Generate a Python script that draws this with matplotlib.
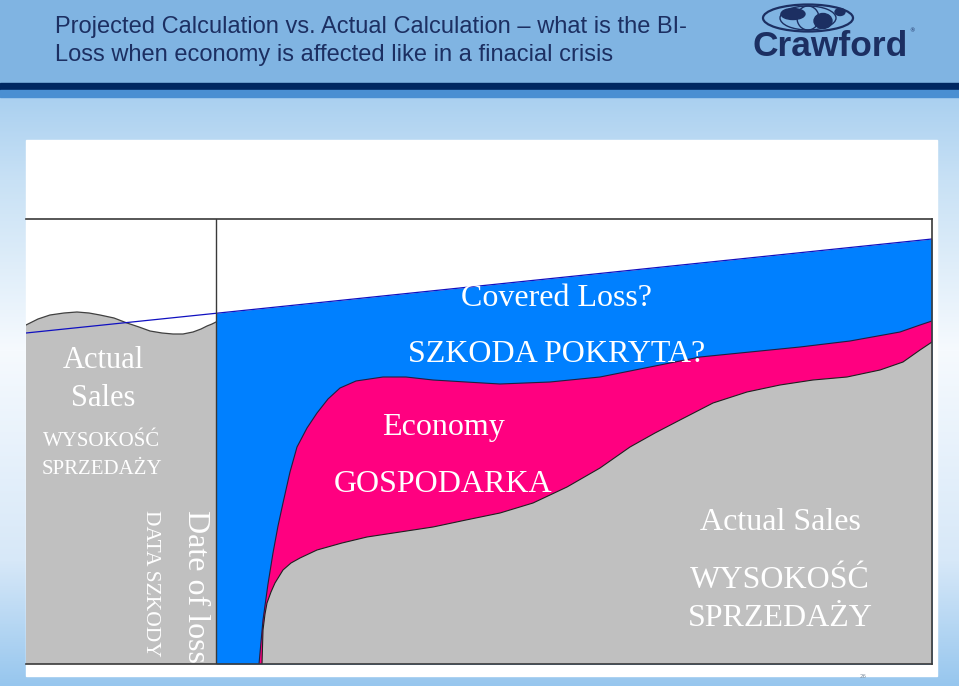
import numpy as np
import matplotlib.pyplot as plt
from matplotlib.patches import Rectangle, Ellipse

# chart units: x = time since start of chart, y = sales level (baseline 0)
loss_x = 190

# actual sales before the date of loss
pre_x = [0, 12, 24, 38, 51, 63, 74, 88, 101, 113, 124, 136, 147, 157, 167, 175, 181, 186, 190]
pre_y = [339, 345, 349, 351, 352, 351, 349, 346, 341, 337, 333, 331, 330, 330, 332, 335, 338, 340, 342]

# projected sales trend (straight line)
proj_x = [0, 906]
proj_y = [331, 425]

# projection corrected for the economy (financial crisis)
econ_x = [233, 237, 242, 247, 252, 257, 264, 271, 281, 291, 302, 314, 330, 357,
          380, 407, 440, 474, 524, 574, 624, 674, 724, 774, 824, 874, 894, 906]
econ_y = [0, 44, 80, 111, 138, 161, 192, 217, 236, 251, 265, 276, 283, 287,
          287, 284, 282, 280, 282, 287, 297, 307, 312, 317, 323, 332, 339, 343]

# actual sales after the loss
act_x = [236, 237, 239, 241, 245, 249, 257, 265, 274, 291, 316, 341, 374, 407, 440,
         474, 507, 541, 574, 604, 629, 654, 687, 721, 754, 787, 821, 854, 877, 894, 906]
act_y = [0, 34, 50, 61, 72, 81, 94, 101, 106, 114, 121, 127, 132, 137, 144,
         151, 161, 177, 196, 217, 231, 244, 261, 272, 279, 284, 287, 294, 302, 314, 322]

title1 = "Projected Calculation vs. Actual Calculation \u2013 what is the BI-"
title2 = "Loss when economy is affected like in a finacial crisis"

BLUE = "#0080ff"
PINK = "#ff0080"
GREY = "#c0c0c0"
NAVY = "#1c2f62"
SERIF = "Liberation Serif"

fig = plt.figure(figsize=(9.59, 6.86), dpi=100)

# ---- slide background ----
bg = fig.add_axes([0, 0, 1, 1])
bg.set_xlim(0, 959)
bg.set_ylim(686, 0)
bg.axis("off")

rows = np.arange(686)
stops = [97, 180, 350, 560, 686]
cols = np.array([[170, 208, 240], [200, 225, 245], [246, 250, 254],
                 [215, 232, 248], [150, 198, 238]]) / 255
grad = np.stack([np.interp(rows, stops, cols[:, k]) for k in range(3)], axis=-1)
bg.imshow(grad[:, None, :], extent=(0, 959, 686, 0), aspect="auto", zorder=0)

bg.add_patch(Rectangle((0, 0), 959, 83, color="#80b4e2", zorder=1))
bg.add_patch(Rectangle((0, 83), 959, 7, color="#002862", zorder=1))
bg.add_patch(Rectangle((0, 90), 959, 7, color="#4a8fd2", zorder=1))
bg.add_patch(Rectangle((26, 140), 911, 536, color="white", zorder=1))

bg.text(55, 27, title1, fontsize=17, family="Liberation Sans",
        color=NAVY, va="center", zorder=3)
bg.text(55, 55, title2, fontsize=17, family="Liberation Sans",
        color=NAVY, va="center", zorder=3)

# logo: globe + bold word mark
bg.add_patch(Ellipse((808, 18), 90, 27, fill=False, ec=NAVY, lw=1.6, zorder=3))
bg.add_patch(Ellipse((808, 18), 56, 24, fill=False, ec=NAVY, lw=1.0, zorder=3))
bg.add_patch(Ellipse((808, 18), 22, 24, fill=False, ec=NAVY, lw=1.0, zorder=3))
bg.add_patch(Ellipse((793, 14), 24, 11, color=NAVY, zorder=3))
bg.add_patch(Ellipse((823, 21), 18, 15, color=NAVY, zorder=3))
bg.add_patch(Ellipse((840, 12), 10, 7, color=NAVY, zorder=3))
bg.text(830, 46, "Crawford", fontsize=25.5, family="Liberation Sans",
        weight="bold", color=NAVY, ha="center", va="center", zorder=3)
bg.text(912, 31, "\u00ae", fontsize=4, color=NAVY, ha="center", va="center", zorder=3)
bg.text(863, 677, "26", fontsize=4, color="#8090a0", ha="center", va="center", zorder=3)

# ---- chart ----
ax = fig.add_axes([26 / 959, 22 / 686, 906 / 959, 445 / 686], zorder=2)
ax.set_xlim(0, 906)
ax.set_ylim(0, 445)
ax.set_facecolor("white")
ax.set_xticks([])
ax.set_yticks([])
for s in ["top", "right", "bottom"]:
    ax.spines[s].set_color("#3a3a3a")
    ax.spines[s].set_linewidth(1.2)
ax.spines["left"].set_visible(False)

# left part: actual sales before the loss
ax.fill(pre_x + [loss_x, 0], pre_y + [0, 0], color=GREY, lw=0)
ax.plot(pre_x, pre_y, color="#404040", lw=0.9)

# projected sales -> covered loss area
bx = [loss_x, proj_x[1]]
by = np.interp(bx, proj_x, proj_y)
ax.fill_between(bx, 0, by, color=BLUE, lw=0)
ax.plot(proj_x, proj_y, color="#1010c0", lw=0.9)

# economy effect
ax.fill(econ_x + [906, econ_x[0]], econ_y + [0, 0], color=PINK, lw=0)
ax.plot(econ_x, econ_y, color="#202040", lw=0.8)

# actual sales after the loss
ax.fill(act_x + [906, act_x[0]], act_y + [0, 0], color=GREY, lw=0)
ax.plot(act_x, act_y, color="#202020", lw=0.8)

ax.plot([loss_x, loss_x], [0, 445], color="#3a3a3a", lw=1.0)


def put(x, y, s, size, **kw):
    ax.text(x - 26, 664 - y, s, fontsize=size, family=SERIF, color="white",
            ha="center", va="center", **kw)


put(103, 360, "Actual", 22)
put(103, 399, "Sales", 22)
put(102, 441, "WYSOKOŚĆ", 15)
put(102, 469, "SPRZEDAŻY", 15)
ax.text(195 - 26, 664 - 510, "Date of loss", fontsize=23, family=SERIF,
        color="white", rotation=270, ha="center", va="top")
ax.text(150 - 26, 664 - 510, "DATA SZKODY", fontsize=15.5, family=SERIF,
        color="white", rotation=270, ha="center", va="top")

put(557, 298, "Covered Loss?", 23)
put(557, 355, "SZKODA POKRYTA?", 23)
put(443, 428, "Economy", 23)
put(443, 485, "GOSPODARKA", 23)
put(780, 523, "Actual Sales", 23)
put(780, 580, "WYSOKOŚĆ", 23)
put(780, 618, "SPRZEDAŻY", 23)

fig.savefig("out.png", dpi=100)
